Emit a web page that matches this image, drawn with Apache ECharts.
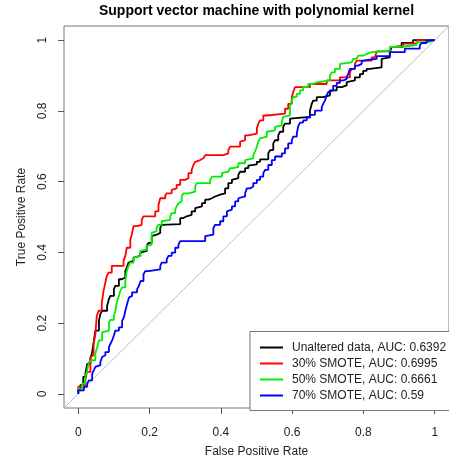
<!DOCTYPE html>
<html>
<head>
<meta charset="utf-8">
<script src="https://cdn.jsdelivr.net/npm/echarts@6/dist/echarts.min.js"></script>
<style>
  html, body { margin: 0; padding: 0; background: #ffffff; }
  #chart { width: 449px; height: 463px; }
</style>
</head>
<body>
<div id="chart"></div>
<script>
// ROC curves of the polynomial-kernel SVM, one per training set variant: [FPR, TPR]
const seriesNames = [
  'Unaltered data, AUC: 0.6392',
  '30% SMOTE, AUC: 0.6995',
  '50% SMOTE, AUC: 0.6661',
  '70% SMOTE, AUC: 0.59'
];
const seriesColors = ['#000000', '#ff0000', '#00ee00', '#0000ff'];
const tickValues = [0, 0.2, 0.4, 0.6, 0.8, 1];
const tickLabels = ['0', '0.2', '0.4', '0.6', '0.8', '1'];
const chanceLine = [[-0.04, -0.04], [1.04, 1.04]];

const rocUnaltered = [
  [0,0],[0.006,0.014],[0.014,0.025],[0.020,0.048],[0.025,0.057],[0.034,0.085],[0.039,0.099],
  [0.044,0.118],[0.048,0.151],[0.058,0.179],[0.062,0.207],[0.067,0.226],[0.072,0.235],[0.081,0.235],
  [0.086,0.249],[0.090,0.268],[0.100,0.277],[0.104,0.296],[0.114,0.305],[0.122,0.324],[0.132,0.329],
  [0.136,0.347],[0.141,0.357],[0.146,0.371],[0.155,0.376],[0.160,0.385],[0.174,0.390],[0.178,0.399],
  [0.192,0.404],[0.197,0.418],[0.206,0.427],[0.211,0.446],[0.220,0.450],[0.230,0.455],[0.234,0.469],
  [0.239,0.478],[0.286,0.480],[0.295,0.497],[0.304,0.502],[0.318,0.506],[0.328,0.516],[0.332,0.525],
  [0.347,0.530],[0.356,0.539],[0.365,0.549],[0.375,0.553],[0.384,0.558],[0.398,0.563],[0.412,0.567],
  [0.421,0.581],[0.431,0.596],[0.435,0.605],[0.449,0.610],[0.454,0.619],[0.468,0.628],[0.477,0.638],
  [0.482,0.645],[0.501,0.649],[0.510,0.656],[0.533,0.663],[0.538,0.680],[0.547,0.689],[0.552,0.708],
  [0.561,0.717],[0.566,0.731],[0.575,0.741],[0.580,0.755],[0.594,0.764],[0.599,0.778],[0.650,0.783],
  [0.655,0.801],[0.659,0.820],[0.669,0.829],[0.687,0.839],[0.706,0.844],[0.725,0.858],[0.739,0.867],
  [0.753,0.872],[0.757,0.881],[0.776,0.886],[0.790,0.895],[0.799,0.904],[0.809,0.913],[0.818,0.919],
  [0.851,0.923],[0.855,0.947],[0.874,0.951],[0.879,0.965],[0.883,0.980],[0.907,0.983],[0.911,0.992],
  [0.939,0.993],[0.949,1],[1,1]
];

const rocSmote30 = [
  [0,0],[0.003,0.020],[0.010,0.024],[0.020,0.024],[0.024,0.038],[0.034,0.062],[0.038,0.104],
  [0.043,0.109],[0.048,0.141],[0.052,0.169],[0.057,0.221],[0.066,0.235],[0.071,0.258],[0.076,0.291],
  [0.080,0.315],[0.085,0.333],[0.094,0.343],[0.099,0.362],[0.127,0.362],[0.132,0.376],[0.136,0.390],
  [0.146,0.413],[0.150,0.436],[0.155,0.450],[0.164,0.474],[0.169,0.478],[0.178,0.478],[0.183,0.492],
  [0.197,0.502],[0.216,0.502],[0.225,0.516],[0.230,0.534],[0.244,0.553],[0.248,0.561],[0.262,0.567],
  [0.267,0.577],[0.276,0.581],[0.286,0.591],[0.300,0.605],[0.309,0.610],[0.318,0.624],[0.323,0.633],
  [0.328,0.647],[0.332,0.656],[0.342,0.661],[0.351,0.666],[0.356,0.671],[0.379,0.675],[0.407,0.675],
  [0.421,0.680],[0.426,0.689],[0.431,0.699],[0.454,0.699],[0.459,0.713],[0.468,0.717],[0.477,0.731],
  [0.501,0.736],[0.505,0.750],[0.510,0.764],[0.519,0.773],[0.529,0.787],[0.533,0.792],[0.580,0.792],
  [0.589,0.806],[0.599,0.820],[0.603,0.839],[0.608,0.853],[0.613,0.867],[0.650,0.867],[0.655,0.876],
  [0.697,0.876],[0.701,0.886],[0.734,0.886],[0.739,0.895],[0.762,0.895],[0.767,0.909],[0.776,0.919],
  [0.781,0.933],[0.790,0.942],[0.823,0.942],[0.832,0.951],[0.837,0.956],[0.841,0.968],[0.874,0.968],
  [0.879,0.980],[0.911,0.980],[0.921,0.990],[0.949,0.990],[0.953,1],[1,1]
];

const rocSmote50 = [
  [0,0],[0.011,0.015],[0.020,0.029],[0.025,0.048],[0.030,0.067],[0.034,0.090],[0.039,0.095],
  [0.048,0.095],[0.053,0.113],[0.058,0.132],[0.067,0.151],[0.072,0.174],[0.086,0.179],[0.090,0.202],
  [0.100,0.209],[0.104,0.221],[0.109,0.235],[0.114,0.263],[0.118,0.277],[0.123,0.291],[0.132,0.301],
  [0.136,0.319],[0.141,0.347],[0.146,0.362],[0.155,0.371],[0.160,0.385],[0.174,0.390],[0.178,0.404],
  [0.192,0.408],[0.197,0.418],[0.206,0.422],[0.211,0.455],[0.220,0.460],[0.225,0.469],[0.234,0.478],
  [0.239,0.488],[0.258,0.492],[0.262,0.502],[0.272,0.511],[0.276,0.521],[0.281,0.530],[0.286,0.539],
  [0.290,0.544],[0.295,0.558],[0.309,0.567],[0.328,0.572],[0.332,0.586],[0.337,0.596],[0.370,0.596],
  [0.375,0.605],[0.403,0.614],[0.407,0.624],[0.421,0.628],[0.426,0.633],[0.435,0.638],[0.449,0.642],
  [0.454,0.652],[0.468,0.652],[0.473,0.661],[0.491,0.666],[0.496,0.675],[0.501,0.685],[0.505,0.699],
  [0.510,0.713],[0.515,0.722],[0.529,0.727],[0.533,0.741],[0.552,0.745],[0.557,0.755],[0.571,0.759],
  [0.575,0.769],[0.580,0.783],[0.594,0.787],[0.599,0.815],[0.603,0.829],[0.613,0.840],[0.622,0.848],
  [0.631,0.858],[0.645,0.867],[0.655,0.876],[0.673,0.881],[0.678,0.886],[0.706,0.886],[0.711,0.900],
  [0.720,0.909],[0.734,0.919],[0.739,0.933],[0.767,0.937],[0.771,0.942],[0.781,0.947],[0.785,0.951],
  [0.799,0.956],[0.809,0.961],[0.823,0.966],[0.874,0.970],[0.879,0.980],[0.911,0.982],[0.916,0.986],
  [0.949,0.986],[0.953,0.994],[0.981,0.994],[0.986,0.999],[1,1]
];

const rocSmote70 = [
  [0,0],[0.006,0.010],[0.016,0.010],[0.025,0.020],[0.030,0.029],[0.039,0.038],[0.044,0.057],
  [0.048,0.067],[0.053,0.076],[0.062,0.081],[0.067,0.090],[0.072,0.104],[0.076,0.109],[0.086,0.118],
  [0.090,0.132],[0.095,0.141],[0.100,0.151],[0.104,0.165],[0.114,0.179],[0.123,0.188],[0.128,0.207],
  [0.132,0.216],[0.137,0.235],[0.142,0.254],[0.146,0.272],[0.151,0.277],[0.165,0.287],[0.170,0.296],
  [0.175,0.305],[0.183,0.319],[0.188,0.338],[0.197,0.347],[0.230,0.352],[0.234,0.362],[0.248,0.371],
  [0.253,0.380],[0.262,0.390],[0.272,0.399],[0.281,0.413],[0.286,0.422],[0.295,0.432],[0.356,0.432],
  [0.361,0.446],[0.379,0.450],[0.384,0.469],[0.398,0.478],[0.407,0.488],[0.417,0.502],[0.421,0.516],
  [0.431,0.521],[0.440,0.530],[0.449,0.544],[0.454,0.553],[0.468,0.558],[0.473,0.567],[0.482,0.581],
  [0.491,0.586],[0.501,0.596],[0.510,0.605],[0.519,0.614],[0.524,0.624],[0.533,0.633],[0.543,0.647],
  [0.552,0.661],[0.571,0.671],[0.580,0.680],[0.589,0.694],[0.599,0.708],[0.603,0.717],[0.613,0.727],
  [0.617,0.736],[0.622,0.756],[0.631,0.767],[0.641,0.773],[0.650,0.781],[0.664,0.789],[0.683,0.801],
  [0.687,0.811],[0.692,0.820],[0.697,0.829],[0.701,0.844],[0.706,0.853],[0.715,0.858],[0.725,0.871],
  [0.734,0.879],[0.743,0.886],[0.753,0.890],[0.757,0.896],[0.762,0.904],[0.776,0.919],[0.785,0.928],
  [0.795,0.933],[0.799,0.941],[0.813,0.944],[0.837,0.947],[0.841,0.955],[0.874,0.955],[0.879,0.966],
  [0.916,0.966],[0.921,0.976],[0.958,0.976],[0.963,0.985],[0.977,0.992],[0.986,0.999],[1,1]
];

const rocCurves = [rocUnaltered, rocSmote30, rocSmote50, rocSmote70];

const FONT = '"Liberation Sans", Arial, Helvetica, sans-serif';
const chart = echarts.init(document.getElementById('chart'), null, { renderer: 'canvas' });

function rocAxis(name, isY) {
  return {
    type: 'value',
    min: -0.04,
    max: 1.04,
    name: name,
    nameLocation: 'middle',
    nameGap: isY ? 36 : 38,
    nameTextStyle: { fontFamily: FONT, fontSize: 12, color: '#222' },
    axisLine: { show: false, onZero: false },
    splitLine: { show: false },
    axisTick: {
      show: true,
      inside: false,
      length: 6,
      customValues: tickValues,
      lineStyle: { color: '#555', width: 1 }
    },
    axisLabel: {
      show: true,
      customValues: tickValues,
      rotate: isY ? 90 : 0,
      margin: isY ? 15 : 19,
      fontFamily: FONT,
      fontSize: 12,
      color: '#222',
      formatter: function (v) {
        const i = tickValues.findIndex(t => Math.abs(t - v) < 1e-9);
        return i >= 0 ? tickLabels[i] : '';
      }
    }
  };
}

const curveSeries = rocCurves.map((pts, i) => ({
  name: seriesNames[i],
  type: 'line',
  data: pts,
  step: 'start',
  showSymbol: false,
  symbol: 'none',
  clip: true,
  silent: true,
  color: seriesColors[i],
  lineStyle: { color: seriesColors[i], width: 1.8 },
  z: 3 + i
}));

chart.setOption({
  animation: false,
  backgroundColor: '#ffffff',
  grid: {
    left: 64, right: -2, top: 26, bottom: 52,
    show: true,
    borderColor: '#777',
    borderWidth: 1,
    backgroundColor: 'transparent'
  },
  graphic: [{
    type: 'text',
    x: 256.5,
    y: 11,
    style: {
      text: 'Support vector machine with polynomial kernel',
      font: 'bold 14px ' + FONT,
      fill: '#000',
      textAlign: 'center',
      textVerticalAlign: 'middle'
    }
  }],
  legend: {
    orient: 'vertical',
    left: 250,
    top: 331.5,
    padding: [8, 12, 7, 10],
    itemGap: 0,
    itemWidth: 23,
    itemHeight: 2,
    icon: 'rect',
    backgroundColor: '#ffffff',
    borderColor: '#777',
    borderWidth: 1,
    borderRadius: 0,
    selectedMode: false,
    data: seriesNames,
    textStyle: {
      fontFamily: FONT,
      fontSize: 12,
      color: '#222',
      lineHeight: 16,
      padding: [0, 0, 0, 4]
    }
  },
  xAxis: rocAxis('False Positive Rate', false),
  yAxis: rocAxis('True Positive Rate', true),
  series: [{
    name: 'chance',
    type: 'line',
    data: chanceLine,
    showSymbol: false,
    symbol: 'none',
    clip: true,
    silent: true,
    lineStyle: { color: '#bebebe', width: 1 },
    z: 2
  }].concat(curveSeries)
});
</script>
</body>
</html>
